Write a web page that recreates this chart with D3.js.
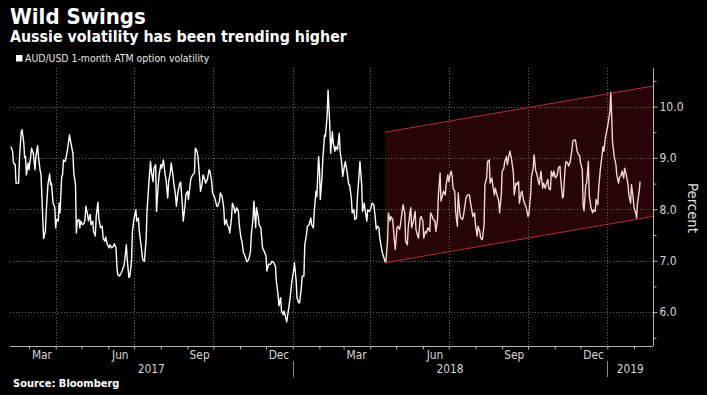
<!DOCTYPE html>
<html><head><meta charset="utf-8">
<script src="https://cdn.jsdelivr.net/npm/d3@7"></script>
<style>
html,body{margin:0;padding:0;background:#000;}
svg{display:block;}
text{font-family:"DejaVu Sans Condensed","DejaVu Sans",sans-serif;font-stretch:condensed;}
</style></head><body>
<svg id="c" width="707" height="395"></svg>
<script>
const title = "Wild Swings";
const subtitle = "Aussie volatility has been trending higher";
const seriesName = "AUD/USD 1-month ATM option volatility";
const sourceText = "Source: Bloomberg";
const yLabel = "Percent";
const yMajorTicks = [6, 7, 8, 9, 10];
const yMinorTicks = [5.5, 6.5, 7.5, 8.5, 9.5, 10.5];
const xDomain = ["2017-02-07", "2019-02-23"];
const yDomain = [5.34, 10.75];
const monthLabelDates = ["2017-03-16","2017-06-15","2017-09-15","2017-12-16","2018-03-16","2018-06-15","2018-09-15","2018-12-16"];
const monthLabelTexts = ["Mar","Jun","Sep","Dec","Mar","Jun","Sep","Dec"];
const yearLabels = ["2017","2018","2019"];
const yearStarts = ["2017-01-01","2018-01-01","2019-01-01","2020-01-01"];
const channelDates = ["2018-04-18", "2019-02-23"];
const channelUpper = [9.50, 10.40];
const channelLower = [6.96, 7.86];

const dates = [
// 2017 Feb - Jul 3
"2017-02-08","2017-02-10","2017-02-11","2017-02-13","2017-02-14","2017-02-17","2017-02-18","2017-02-20","2017-02-21","2017-02-23",
"2017-02-24","2017-02-25","2017-02-26","2017-02-28","2017-03-01","2017-03-03","2017-03-04","2017-03-06","2017-03-08","2017-03-09",
"2017-03-11","2017-03-12","2017-03-14","2017-03-15","2017-03-17","2017-03-18","2017-03-20","2017-03-21","2017-03-23","2017-03-25",
"2017-03-26","2017-03-27","2017-03-29","2017-03-31","2017-04-01","2017-04-02","2017-04-04","2017-04-05","2017-04-06","2017-04-08",
"2017-04-09","2017-04-10","2017-04-12","2017-04-13","2017-04-15","2017-04-17","2017-04-19","2017-04-21","2017-04-22","2017-04-24",
"2017-04-25","2017-04-26","2017-04-28","2017-04-29","2017-04-30","2017-05-02","2017-05-04","2017-05-05","2017-05-06","2017-05-08",
"2017-05-09","2017-05-11","2017-05-12","2017-05-14","2017-05-15","2017-05-17","2017-05-18","2017-05-20","2017-05-21","2017-05-23",
"2017-05-25","2017-05-26","2017-05-28","2017-05-29","2017-05-31","2017-06-02","2017-06-03","2017-06-05","2017-06-07","2017-06-08",
"2017-06-10","2017-06-11","2017-06-12","2017-06-14","2017-06-16","2017-06-17","2017-06-19","2017-06-20","2017-06-22","2017-06-23",
"2017-06-25","2017-06-26","2017-06-28","2017-06-29","2017-07-01","2017-07-03",
// 2017 Jul 4 - Nov 25
"2017-07-04","2017-07-06","2017-07-07","2017-07-09","2017-07-11","2017-07-12","2017-07-13","2017-07-15","2017-07-16","2017-07-18",
"2017-07-20","2017-07-21","2017-07-23","2017-07-24","2017-07-26","2017-07-27","2017-07-29","2017-07-30","2017-08-01","2017-08-02",
"2017-08-04","2017-08-06","2017-08-07","2017-08-09","2017-08-10","2017-08-12","2017-08-13","2017-08-15","2017-08-16","2017-08-18",
"2017-08-19","2017-08-21","2017-08-23","2017-08-24","2017-08-26","2017-08-27","2017-08-29","2017-08-30","2017-09-01","2017-09-02",
"2017-09-04","2017-09-05","2017-09-07","2017-09-09","2017-09-10","2017-09-12","2017-09-13","2017-09-15","2017-09-16","2017-09-18",
"2017-09-19","2017-09-21","2017-09-22","2017-09-24","2017-09-26","2017-09-27","2017-09-29","2017-09-30","2017-10-02","2017-10-03",
"2017-10-05","2017-10-06","2017-10-08","2017-10-09","2017-10-11","2017-10-13","2017-10-14","2017-10-16","2017-10-17","2017-10-19",
"2017-10-20","2017-10-22","2017-10-23","2017-10-25","2017-10-26","2017-10-28","2017-10-30","2017-10-31","2017-11-02","2017-11-03",
"2017-11-05","2017-11-06","2017-11-08","2017-11-09","2017-11-11","2017-11-13","2017-11-14","2017-11-16","2017-11-17","2017-11-19",
"2017-11-20","2017-11-22","2017-11-23","2017-11-25",
// 2017 Nov 27 - 2018 Apr 18
"2017-11-27","2017-11-29","2017-12-01","2017-12-02","2017-12-04","2017-12-06","2017-12-08","2017-12-10","2017-12-12","2017-12-13",
"2017-12-15","2017-12-16","2017-12-18","2017-12-19","2017-12-21","2017-12-22","2017-12-24","2017-12-25","2017-12-26","2017-12-28",
"2017-12-29","2017-12-31","2018-01-02","2018-01-03","2018-01-05","2018-01-06","2018-01-08","2018-01-09","2018-01-11","2018-01-12",
"2018-01-14","2018-01-15","2018-01-17","2018-01-18","2018-01-20","2018-01-22","2018-01-23","2018-01-25","2018-01-26","2018-01-28",
"2018-01-29","2018-01-31","2018-02-01","2018-02-02","2018-02-04","2018-02-05","2018-02-07","2018-02-08","2018-02-10","2018-02-11",
"2018-02-13","2018-02-14","2018-02-16","2018-02-17","2018-02-19","2018-02-20","2018-02-22","2018-02-24","2018-02-25","2018-02-27",
"2018-02-28","2018-03-02","2018-03-03","2018-03-05","2018-03-07","2018-03-08","2018-03-10","2018-03-11","2018-03-13","2018-03-14",
"2018-03-16","2018-03-17","2018-03-19","2018-03-20","2018-03-22","2018-03-23","2018-03-25","2018-03-26","2018-03-28","2018-03-29",
"2018-03-31","2018-04-01","2018-04-03","2018-04-05","2018-04-06","2018-04-08","2018-04-09","2018-04-11","2018-04-12","2018-04-14",
"2018-04-15","2018-04-17","2018-04-18",
// 2018 Apr 19 - Sep 10
"2018-04-19","2018-04-21","2018-04-22","2018-04-24","2018-04-25","2018-04-27","2018-04-29","2018-04-30","2018-05-02","2018-05-03",
"2018-05-05","2018-05-06","2018-05-08","2018-05-09","2018-05-11","2018-05-12","2018-05-14","2018-05-15","2018-05-17","2018-05-18",
"2018-05-19","2018-05-21","2018-05-23","2018-05-24","2018-05-26","2018-05-27","2018-05-29","2018-05-30","2018-06-01","2018-06-02",
"2018-06-04","2018-06-05","2018-06-07","2018-06-09","2018-06-10","2018-06-12","2018-06-13","2018-06-15","2018-06-16","2018-06-18",
"2018-06-19","2018-06-21","2018-06-22","2018-06-24","2018-06-25","2018-06-27","2018-06-28","2018-06-30","2018-07-01","2018-07-03",
"2018-07-04","2018-07-05","2018-07-06","2018-07-08","2018-07-09","2018-07-11","2018-07-12","2018-07-14","2018-07-15","2018-07-17",
"2018-07-18","2018-07-20","2018-07-21","2018-07-23","2018-07-25","2018-07-26","2018-07-28","2018-07-29","2018-07-31","2018-08-01",
"2018-08-03","2018-08-04","2018-08-06","2018-08-07","2018-08-09","2018-08-11","2018-08-12","2018-08-14","2018-08-15","2018-08-17",
"2018-08-18","2018-08-20","2018-08-21","2018-08-23","2018-08-24","2018-08-26","2018-08-28","2018-08-29","2018-08-31","2018-09-01",
"2018-09-03","2018-09-04","2018-09-06","2018-09-07","2018-09-09","2018-09-10",
// 2018 Sep 12 - 2019 Feb 8
"2018-09-12","2018-09-14","2018-09-15","2018-09-17","2018-09-18","2018-09-20","2018-09-21","2018-09-23","2018-09-24","2018-09-26",
"2018-09-27","2018-09-29","2018-10-01","2018-10-02","2018-10-04","2018-10-05","2018-10-07","2018-10-08","2018-10-10","2018-10-11",
"2018-10-13","2018-10-14","2018-10-16","2018-10-18","2018-10-19","2018-10-21","2018-10-22","2018-10-24","2018-10-25","2018-10-27",
"2018-10-28","2018-10-30","2018-10-31","2018-11-02","2018-11-04","2018-11-05","2018-11-07","2018-11-08","2018-11-10","2018-11-11",
"2018-11-13","2018-11-14","2018-11-16","2018-11-17","2018-11-19","2018-11-21","2018-11-22","2018-11-24","2018-11-25","2018-11-27",
"2018-11-28","2018-11-30","2018-12-01","2018-12-03","2018-12-04","2018-12-05","2018-12-07","2018-12-08","2018-12-10","2018-12-11",
"2018-12-13","2018-12-15","2018-12-16","2018-12-18","2018-12-19","2018-12-21","2018-12-22","2018-12-24","2018-12-25","2018-12-27",
"2018-12-28","2018-12-30","2019-01-01","2019-01-02","2019-01-04","2019-01-05","2019-01-06","2019-01-07","2019-01-09","2019-01-11",
"2019-01-12","2019-01-14","2019-01-15","2019-01-17","2019-01-18","2019-01-20","2019-01-21","2019-01-23","2019-01-25","2019-01-26",
"2019-01-28","2019-01-29","2019-01-31","2019-02-01","2019-02-03","2019-02-04","2019-02-05","2019-02-07","2019-02-08"
];

const vols = [
// 2017 Feb - Jul 3
9.22,9.13,8.90,8.87,8.51,8.51,9.00,9.51,9.55,9.29,
9.00,9.03,8.67,8.90,8.77,9.03,9.19,9.09,8.77,9.03,
9.24,9.03,8.75,8.67,7.83,7.43,7.57,7.93,8.48,8.69,
8.48,8.51,8.12,8.03,7.64,7.80,7.77,8.12,7.93,8.64,
8.67,8.96,8.93,9.00,9.19,9.45,9.26,9.09,8.71,8.48,
7.54,7.77,7.80,7.64,7.77,7.70,7.73,7.80,8.06,7.90,
7.77,7.90,7.70,7.77,7.57,7.48,7.86,8.14,7.83,7.64,
7.67,7.44,7.38,7.46,7.31,7.25,7.31,7.25,7.28,7.33,
7.25,6.89,6.73,6.70,6.76,6.80,6.89,6.99,7.31,7.02,
6.67,6.70,6.99,7.57,7.83,7.99,
// 2017 Jul 4 - Nov 25
7.77,7.83,7.57,7.31,7.02,7.00,6.99,7.44,7.96,8.48,
8.93,8.74,8.54,8.80,8.87,7.96,8.48,8.67,8.87,8.80,
8.96,8.67,8.58,8.22,8.54,8.71,8.90,8.67,8.51,8.28,
8.06,8.35,8.51,8.53,8.09,7.77,8.06,8.28,8.35,8.19,
8.48,8.61,8.67,8.71,9.19,9.13,9.03,8.61,8.35,8.51,
8.67,8.58,8.51,8.58,8.77,8.74,8.54,8.32,8.25,8.19,
8.06,8.06,8.16,8.32,8.25,8.03,7.70,7.80,7.70,7.64,
7.54,7.83,8.12,8.03,7.93,8.03,7.96,7.70,7.44,7.38,
7.15,7.12,7.02,6.98,7.02,7.18,7.51,7.83,8.16,7.64,
8.03,7.86,7.70,7.64,
// 2017 Nov 27 - 2018 Apr 18
7.25,7.18,7.09,6.80,6.93,6.93,6.99,6.96,6.89,6.60,
6.34,6.12,6.28,6.02,5.95,6.02,5.89,5.81,5.92,6.15,
6.28,6.60,6.80,6.96,6.60,6.28,6.18,6.18,6.47,6.70,
6.70,7.31,7.51,7.67,7.70,7.83,7.70,7.64,7.96,8.35,
8.25,9.03,8.80,8.19,8.64,9.00,9.45,9.42,9.84,10.32,
9.64,9.09,9.51,9.29,9.13,9.22,9.16,9.48,9.13,8.87,
8.64,8.84,8.93,8.74,8.48,8.48,8.22,7.93,7.99,7.80,
7.83,8.22,8.67,8.93,8.48,7.96,8.12,7.99,7.77,7.99,
7.96,7.99,8.12,8.09,7.96,7.61,7.67,7.64,7.44,7.25,
7.15,7.05,6.99,
// 2018 Apr 19 - Sep 10
6.96,7.38,7.93,7.77,7.86,7.80,7.38,7.22,7.64,7.67,
7.61,7.70,7.96,8.09,7.93,7.38,7.31,7.64,7.93,8.03,
7.64,7.77,7.96,7.61,7.48,7.44,7.83,7.86,7.77,7.44,
7.57,7.54,7.64,7.57,7.93,7.86,7.80,7.77,7.57,7.80,
8.28,8.71,8.16,8.28,8.35,8.28,8.48,8.67,8.54,8.71,
8.74,8.64,8.41,8.35,7.96,7.67,8.32,7.90,7.83,7.80,
7.86,8.09,8.22,8.28,8.28,8.16,7.96,7.86,7.93,7.70,
7.48,7.67,7.57,7.44,7.41,7.70,8.48,8.61,8.93,8.96,
8.51,8.61,8.48,8.28,8.41,8.28,8.16,7.93,8.28,8.74,
8.80,8.93,9.03,8.87,9.06,9.13,
// 2018 Sep 12 - 2019 Feb 8
8.96,8.71,8.28,8.51,8.48,8.54,8.12,8.32,8.35,8.16,
8.12,8.03,7.86,7.90,8.28,8.64,8.80,9.06,8.74,8.71,
8.54,8.48,8.74,8.41,8.51,8.41,8.48,8.58,8.41,8.38,
8.74,8.64,8.74,8.61,8.67,8.80,8.84,8.58,8.22,8.25,
8.80,8.93,8.90,8.84,8.93,9.16,9.33,9.35,9.35,9.13,
9.09,9.03,8.90,8.77,8.06,7.97,8.48,8.51,8.93,8.28,
8.03,7.93,7.99,7.96,8.19,8.09,8.41,8.80,8.93,9.22,
9.13,9.42,9.58,9.68,9.90,10.28,9.84,9.32,9.03,8.87,
8.67,8.51,8.61,8.67,8.74,8.61,8.80,8.67,8.48,8.28,
8.12,8.48,8.22,8.03,7.93,7.83,8.12,8.35,8.54
];

const parse = d3.timeParse("%Y-%m-%d");
const W = 707, H = 395;
const plot = {left: 10, right: 653, top: 68, bottom: 346};

const svg = d3.select("#c");
svg.append("rect").attr("width", W).attr("height", H).attr("fill", "#000");

const x = d3.scaleTime().domain(xDomain.map(parse)).range([plot.left, plot.right]);
const y = d3.scaleLinear().domain(yDomain).range([plot.bottom, plot.top]);

const n = Math.min(dates.length, vols.length);
const series = d3.range(n).map(i => ({d: parse(dates[i]), v: vols[i]}));

svg.append("defs").append("clipPath").attr("id", "clip")
  .append("rect").attr("x", plot.left).attr("y", plot.top)
  .attr("width", plot.right - plot.left).attr("height", plot.bottom - plot.top);

// grid
const grid = svg.append("g");
grid.selectAll("line.h").data(yMajorTicks).join("line")
  .attr("x1", plot.left).attr("x2", plot.right)
  .attr("y1", d => Math.round(y(d)) + 0.5).attr("y2", d => Math.round(y(d)) + 0.5)
  .attr("stroke", "#666").attr("stroke-width", 1).attr("stroke-dasharray", "1,2");
const quarters = d3.timeMonth.every(3).range(x.domain()[0], x.domain()[1]);
grid.selectAll("line.v").data(quarters).join("line")
  .attr("x1", d => Math.round(x(d)) + 0.5).attr("x2", d => Math.round(x(d)) + 0.5)
  .attr("y1", plot.top).attr("y2", plot.bottom)
  .attr("stroke", "#666").attr("stroke-width", 1).attr("stroke-dasharray", "1,2");

// data line
const line = d3.line().x(d => x(d.d)).y(d => y(d.v));
svg.append("path").datum(series)
  .attr("d", line).attr("fill", "none")
  .attr("stroke", "#ffffff").attr("stroke-width", 1.4)
  .attr("stroke-linejoin", "round")
  .attr("clip-path", "url(#clip)");

// channel
const cd = channelDates.map(parse);
const poly = [[cd[0], channelUpper[0]], [cd[1], channelUpper[1]], [cd[1], channelLower[1]], [cd[0], channelLower[0]]];
const chG = svg.append("g").attr("clip-path", "url(#clip)");
chG.append("path")
  .attr("d", "M" + poly.map(p => [x(p[0]), y(p[1])].join(",")).join("L") + "Z")
  .attr("fill", "rgba(205,22,42,0.19)");
[channelUpper, channelLower].forEach(arr => {
  chG.append("line")
    .attr("x1", x(cd[0])).attr("y1", y(arr[0]))
    .attr("x2", x(cd[1])).attr("y2", y(arr[1]))
    .attr("stroke", "#b32d39").attr("stroke-width", 1);
});

// x axis
const axisColor = "#b4b4b4", labelColor = "#d6d6d6";
const months = d3.timeMonth.range(x.domain()[0], x.domain()[1]);
const xAxis = svg.append("g").attr("transform", `translate(0,${plot.bottom + 0.5})`)
  .call(d3.axisBottom(x).tickValues(months).tickSize(3).tickFormat(""));
xAxis.select(".domain").attr("stroke", axisColor).attr("d", `M${plot.left},0H${plot.right}`);
xAxis.selectAll(".tick line").attr("stroke", axisColor);

svg.append("g").selectAll("text").data(monthLabelDates).join("text")
  .attr("x", d => x(parse(d))).attr("y", 359)
  .attr("text-anchor", "middle").attr("fill", labelColor)
  .attr("font-size", 11.8)
  .text((d, i) => monthLabelTexts[i]);

const ys = yearStarts.map(parse);
svg.append("g").selectAll("text").data(yearLabels).join("text")
  .attr("x", (d, i) => {
    const a = Math.max(x(ys[i]), plot.left), b = Math.min(x(ys[i + 1]), plot.right);
    return (a + b) / 2;
  })
  .attr("y", 373).attr("text-anchor", "middle").attr("fill", labelColor)
  .attr("font-size", 11.8).text(d => d);
svg.append("g").selectAll("line").data(ys.filter(d => d > x.domain()[0] && d < x.domain()[1])).join("line")
  .attr("x1", d => Math.round(x(d)) + 0.5).attr("x2", d => Math.round(x(d)) + 0.5)
  .attr("y1", 361).attr("y2", 377).attr("stroke", "#8a8a8a");

// y axis
const yAxis = svg.append("g").attr("transform", `translate(${plot.right + 0.5},0)`)
  .call(d3.axisRight(y).tickValues(yMajorTicks).tickSize(4).tickPadding(2).tickFormat(d3.format(".1f")));
yAxis.select(".domain").attr("stroke", axisColor).attr("d", `M0,${plot.top}V${plot.bottom}`);
yAxis.selectAll(".tick line").attr("stroke", axisColor);
yAxis.selectAll(".tick text").attr("fill", labelColor).attr("font-size", 12)
  .attr("font-family", '"DejaVu Sans Condensed","DejaVu Sans",sans-serif');
const yMinor = svg.append("g").attr("transform", `translate(${plot.right + 0.5},0)`)
  .call(d3.axisRight(y).tickValues(yMinorTicks).tickSize(3).tickFormat(""));
yMinor.select(".domain").remove();
yMinor.selectAll(".tick line").attr("stroke", axisColor);

svg.append("text").attr("transform", "translate(688,208) rotate(90)")
  .attr("text-anchor", "middle").attr("fill", "#e0e0e0").attr("font-size", 14.8)
  .text(yLabel);

// titles
svg.append("text").attr("x", 10).attr("y", 24).attr("fill", "#fff")
  .attr("font-size", 22).attr("font-weight", "bold").text(title);
svg.append("text").attr("x", 10).attr("y", 42).attr("fill", "#fff")
  .attr("font-size", 15.8).attr("font-weight", "bold").text(subtitle);
svg.append("rect").attr("x", 16).attr("y", 55).attr("width", 6.5).attr("height", 6.5).attr("fill", "#fff");
svg.append("text").attr("x", 25).attr("y", 62).attr("fill", "#e6e6e6")
  .attr("font-size", 10.4).text(seriesName);
svg.append("text").attr("x", 13).attr("y", 387).attr("fill", "#fff")
  .attr("font-size", 11).attr("font-weight", "bold").text(sourceText);
</script>
</body></html>
